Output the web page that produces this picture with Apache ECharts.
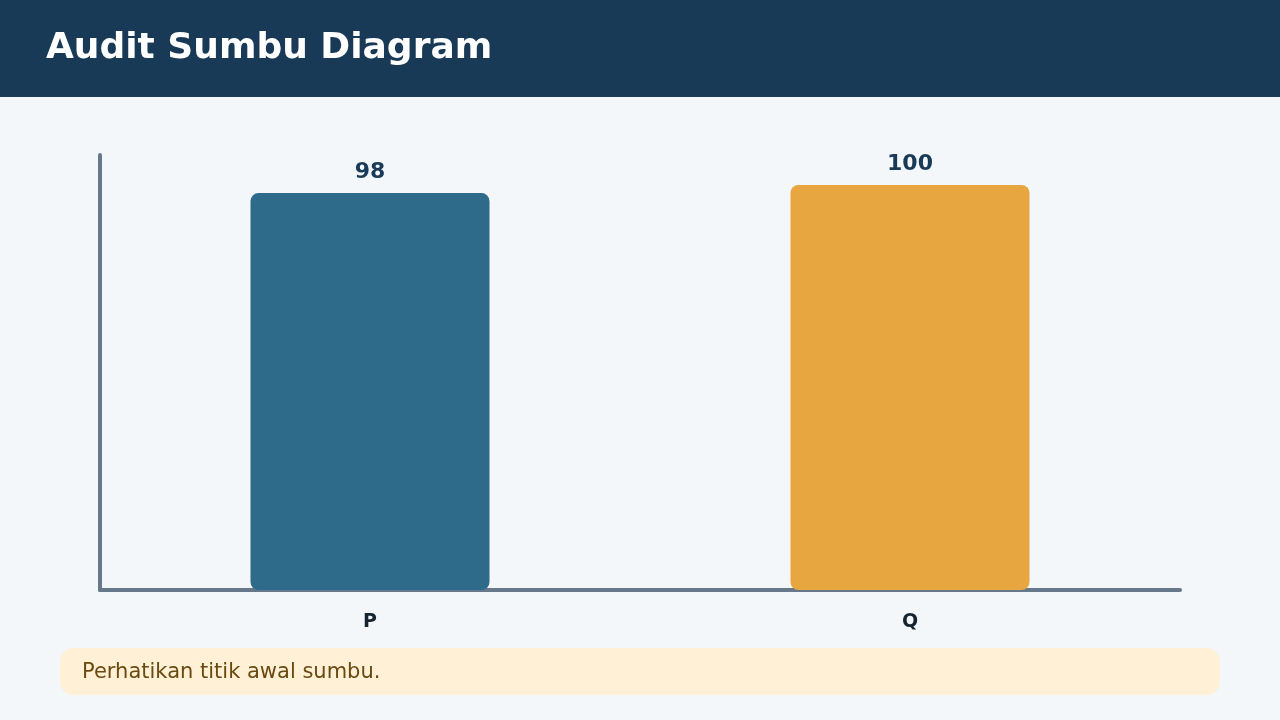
<!DOCTYPE html>
<html>
<head>
<meta charset="utf-8">
<script src="https://cdn.jsdelivr.net/npm/echarts@6/dist/echarts.min.js"></script>
<style>
  html, body { margin: 0; padding: 0; background: #F3F7FA; }
  #chart { width: 1280px; height: 720px; }
</style>
</head>
<body>
<div id="chart"></div>
<script>
// data
const categories = ['P', 'Q']
const values = [98, 100]
const barColors = ['#2E6A8A', '#E7A63F']

const myChart = echarts.init(document.querySelector('#chart'))

const option = {
  backgroundColor: '#F3F7FA',
  animation: false,
  title: {
    text: 'Audit Sumbu Diagram',
    left: 46,
    top: 31,
    padding: 0,
    textStyle: {
      color: '#ffffff',
      fontSize: 36,
      fontWeight: 'bold',
      fontFamily: 'DejaVu Sans'
    }
  },
  graphic: [
    {
      type: 'rect',
      z: -1,
      shape: { x: 0, y: 0, width: 1280, height: 97 },
      style: { fill: '#183A57' }
    },
    {
      type: 'rect',
      shape: { x: 60, y: 648, width: 1160, height: 47, r: 14 },
      style: { fill: '#FFF0D6' }
    },
    {
      type: 'text',
      left: 82,
      top: 662,
      style: {
        text: 'Perhatikan titik awal sumbu.',
        fill: '#6B4A12',
        fontSize: 21,
        fontFamily: 'DejaVu Sans'
      }
    }
  ],
  grid: {
    left: 100,
    right: 100,
    top: 155,
    bottom: 130
  },
  xAxis: {
    type: 'category',
    data: categories,
    axisLine: {
      lineStyle: { color: '#66788A', width: 4 }
    },
    axisTick: { show: false },
    axisLabel: {
      color: '#17232E',
      fontSize: 19,
      fontWeight: 'bold',
      margin: 23,
      fontFamily: 'DejaVu Sans'
    }
  },
  yAxis: {
    type: 'value',
    min: 0,
    max: 107.4,
    axisLine: {
      show: true,
      lineStyle: { color: '#66788A', width: 4 }
    },
    axisTick: { show: false },
    axisLabel: { show: false },
    splitLine: { show: false }
  },
  series: [
    {
      type: 'bar',
      barWidth: 239,
      data: values.map((v, i) => ({
        value: v,
        itemStyle: { color: barColors[i] }
      })),
      itemStyle: {
        borderRadius: 8
      },
      label: {
        show: true,
        position: 'top',
        distance: 10,
        color: '#183A57',
        fontSize: 22,
        fontWeight: 'bold',
        fontFamily: 'DejaVu Sans'
      }
    }
  ]
}

myChart.setOption(option)
</script>
</body>
</html>
